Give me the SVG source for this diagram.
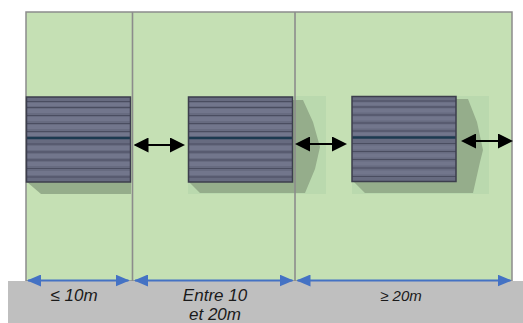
<svg xmlns="http://www.w3.org/2000/svg" width="523" height="323" viewBox="0 0 523 323">
  <style>
    .zone { fill: #c5e0b4; stroke: #8c8c8c; stroke-width: 1.5; }
    .divider { stroke: #8c8c8c; stroke-width: 1.6; }
    .halo { fill: #bad9ae; }
    .shade { fill: #95ad8b; }
    .gap { stroke: #000; stroke-width: 2; fill: none; marker-start: url(#headK); marker-end: url(#headK); }
    .dim { stroke: #4472c4; stroke-width: 2; fill: none; marker-start: url(#headB); marker-end: url(#headB); }
    .lbl { font-family: "Liberation Sans", Arial, sans-serif; font-style: italic; fill: #1a1a1a; text-anchor: middle; }
  </style>
  <defs>
    <marker id="headK" markerUnits="userSpaceOnUse" markerWidth="15" markerHeight="15" refX="13" refY="7.5" orient="auto-start-reverse">
      <path d="M0,0 L15,7.5 L0,15 Z" fill="#000"/>
    </marker>
    <marker id="headB" markerUnits="userSpaceOnUse" markerWidth="14" markerHeight="12" refX="13" refY="6" orient="auto-start-reverse">
      <path d="M0,0 L14,6 L0,12 Z" fill="#4472c4"/>
    </marker>
    <!-- solar panel, 104 x 85 -->
    <g id="panel">
      <rect x="0" y="0" width="104" height="85" fill="#676b80"/>
      <g fill="#72768c">
        <rect x="0" y="6" width="104" height="3"/>
        <rect x="0" y="12" width="104" height="4"/>
        <rect x="0" y="20" width="104" height="4"/>
        <rect x="0" y="28" width="104" height="4"/>
        <rect x="0" y="36" width="104" height="3"/>
        <rect x="0" y="49" width="104" height="4"/>
        <rect x="0" y="57" width="104" height="4"/>
        <rect x="0" y="65" width="104" height="4"/>
        <rect x="0" y="74" width="104" height="4"/>
      </g>
      <g stroke="#4a4d60" stroke-width="1.2">
        <line x1="0" y1="4.5" x2="104" y2="4.5"/>
        <line x1="0" y1="10.5" x2="104" y2="10.5"/>
        <line x1="0" y1="18.5" x2="104" y2="18.5"/>
        <line x1="0" y1="26.5" x2="104" y2="26.5"/>
        <line x1="0" y1="34.5" x2="104" y2="34.5"/>
        <line x1="0" y1="47" x2="104" y2="47"/>
        <line x1="0" y1="55" x2="104" y2="55"/>
        <line x1="0" y1="63" x2="104" y2="63"/>
        <line x1="0" y1="71.5" x2="104" y2="71.5"/>
        <line x1="0" y1="80" x2="104" y2="80"/>
      </g>
      <line x1="0" y1="41" x2="104" y2="41" stroke="#1c3a50" stroke-width="2.4"/>
      <rect x="0" y="0" width="104" height="85" fill="none" stroke="#3c3e4c" stroke-width="1.5"/>
    </g>
  </defs>

  <!-- plot and its three zones -->
  <rect class="zone" x="26" y="12" width="486" height="269"/>

  <!-- panel 1 -->
  <g id="panel-1">
    <polygon class="shade" points="27,182 41,194 131,194 131,182"/>
    <use href="#panel" x="26.5" y="97"/>
  </g>

  <!-- panel 2 -->
  <g id="panel-2">
    <rect class="halo" x="188" y="96" width="138" height="98"/>
    <polygon class="shade" points="293,100 303,100 313,122 320,147 315,169 305,193 200,193 189,182 293,182"/>
    <use href="#panel" x="188.5" y="97"/>
  </g>

  <!-- panel 3 -->
  <g id="panel-3">
    <rect class="halo" x="352" y="96" width="137" height="98"/>
    <polygon class="shade" points="456,99 468,99 477,122 483,150 480,162 473,193 365,193 353,181 456,181"/>
    <use href="#panel" x="352" y="96.5"/>
  </g>

  <!-- zone dividers -->
  <g id="dividers">
    <line class="divider" x1="132.5" y1="12" x2="132.5" y2="281"/>
    <line class="divider" x1="295" y1="12" x2="295" y2="281"/>
  </g>

  <!-- ground strip -->
  <rect x="8" y="281" width="515" height="42" fill="#bfbfbf"/>

  <g id="connectors">
    <!-- spacing between panels -->
    <line class="gap" x1="135.5" y1="145" x2="183" y2="145"/>
    <line class="gap" x1="297" y1="144" x2="345" y2="144"/>
    <line class="gap" x1="463" y1="141" x2="511" y2="141"/>
    <!-- zone widths -->
    <line class="dim" x1="28" y1="280.5" x2="128.5" y2="280.5"/>
    <line class="dim" x1="135" y1="280.5" x2="292.5" y2="280.5"/>
    <line class="dim" x1="297.5" y1="280.5" x2="510.5" y2="280.5"/>
  </g>

  <!-- zone labels -->
  <g id="labels">
    <text class="lbl" x="74" y="300.5" font-size="17">≤ 10m</text>
    <text class="lbl" x="215" y="300.5" font-size="17">Entre 10</text>
    <text class="lbl" x="215" y="319.5" font-size="17">et 20m</text>
    <text class="lbl" x="401" y="300.5" font-size="15">≥ 20m</text>
  </g>
</svg>
